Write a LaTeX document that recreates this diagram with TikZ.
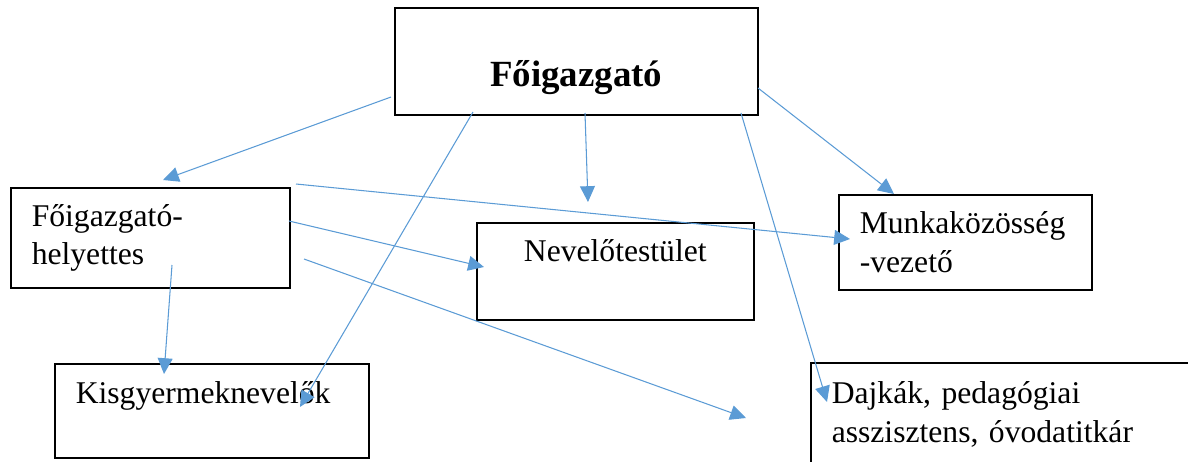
\documentclass[tikz,border=0pt]{standalone}
\usepackage{fontspec}
\setmainfont{Liberation Serif}
\usetikzlibrary{arrows.meta}
\definecolor{arrowblue}{HTML}{5B9BD5}
\tikzstyle{box} = [rectangle, draw, line width=0.9pt, anchor=north west, inner ysep=0pt, font=\fontsize{18pt}{22pt}\selectfont]
\tikzstyle{title} = [box, font=\fontsize{21pt}{25pt}\selectfont\bfseries, text height=1.58cm, text depth=0.56cm, minimum width=7.26cm]
\tikzstyle{leftbox} = [box, align=left, inner xsep=0.42cm]
\tikzstyle{arrow} = [draw=arrowblue, line width=0.6pt, -{Triangle[length=9pt,width=8.5pt]}]

\begin{document}
\begin{tikzpicture}[x=0.02cm, y=-0.02cm]
            \path [use as bounding box, clip] (0,0) rectangle (1188,461);
            \node [title] at (394,7) (fo) {Főigazgató};
            \node [leftbox, text width=4.74cm, minimum height=2cm] at (10,187) (helyettes) {Főigazgató-\\helyettes};
            \node [box, text height=0.78cm, text depth=1.16cm, minimum width=5.54cm] at (476,222) (nevelo) {Nevelőtestület};
            \node [leftbox, text width=4.22cm, minimum height=1.9cm] at (838,194) (munka) {Munkaközösség\\-vezető};
            \node [leftbox, text width=5.44cm, text height=0.8cm, text depth=1.08cm] at (54,363) (kisgy) {Kisgyermeknevelők};
            \node [leftbox, text width=7.16cm, minimum height=2.06cm] at (810,362) (dajka) {Dajkák, pedagógiai\\asszisztens, óvodatitkár};
            % arrow ends
            \coordinate (fo1) at (391,97);
            \coordinate (fo2) at (473,112);
            \coordinate (fo3) at (585,113);
            \coordinate (fo4) at (741,113);
            \coordinate (fo5) at (758,88);
            \coordinate (he1) at (296,184);
            \coordinate (he2) at (289,221);
            \coordinate (he3) at (304,259);
            \coordinate (he4) at (172,265);
            \coordinate (helyettesin) at (163,180);
            \coordinate (kisgyin) at (300,407);
            \coordinate (neveloin) at (588,202);
            \coordinate (dajkain) at (827,402);
            \coordinate (munkain) at (894,194);
            \coordinate (munkain2) at (850,239);
            \coordinate (neveloin2) at (484,267);
            \coordinate (ures) at (746,418);
            \coordinate (kisgyin2) at (164,374);
            \draw [arrow] (fo1) -- (helyettesin);
            \draw [arrow] (fo2) -- (kisgyin);
            \draw [arrow] (fo3) -- (neveloin);
            \draw [arrow] (fo4) -- (dajkain);
            \draw [arrow] (fo5) -- (munkain);
            \draw [arrow] (he1) -- (munkain2);
            \draw [arrow] (he2) -- (neveloin2);
            \draw [arrow] (he3) -- (ures);
            \draw [arrow] (he4) -- (kisgyin2);
\end{tikzpicture}
\end{document}
